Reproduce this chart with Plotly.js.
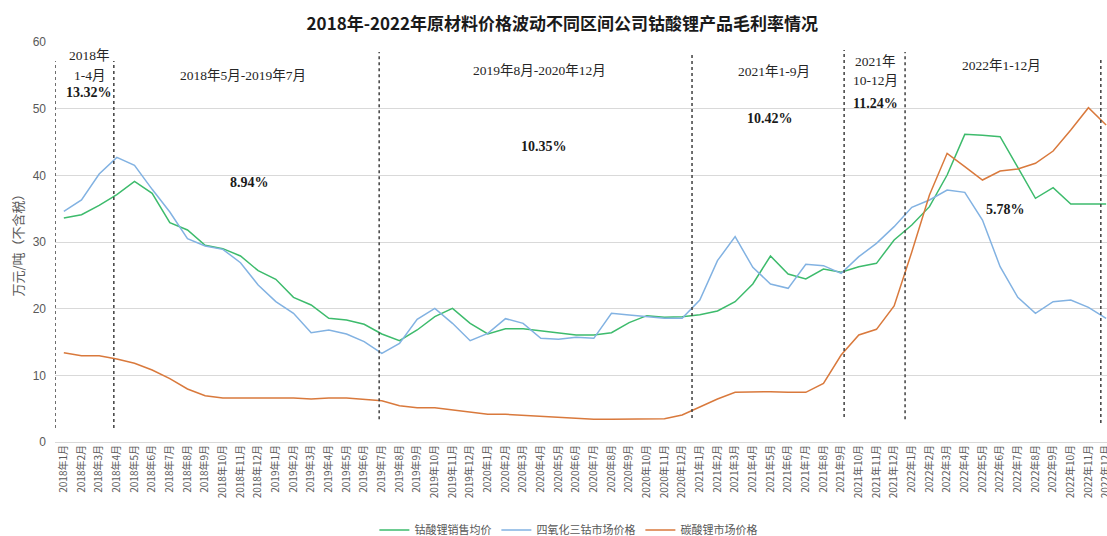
<!DOCTYPE html>
<html>
<head>
<meta charset="utf-8">
<script src="https://cdn.plot.ly/plotly-3.0.1.min.js"></script>
<style>
  html, body { margin: 0; padding: 0; background: #ffffff; }
  #chart { width: 1107px; height: 536px; }
</style>
</head>
<body>
<div id="chart"></div>
<script>
// ---- Data ----
const months = [];
for (let y = 2018; y <= 2022; y++) {
  for (let m = 1; m <= 12; m++) months.push(y + "年" + m + "月");
}

const licoo2Price = [
  33.6, 34.1, 35.5, 37.1, 39.1, 37.3, 32.9, 31.8, 29.5, 29.0,
  27.9, 25.7, 24.4, 21.7, 20.55, 18.55, 18.3, 17.65, 16.2, 15.2,
  16.8, 18.8, 20.05, 17.8, 16.2, 17.0, 17.0, 16.7, 16.3, 16.05,
  16.05, 16.4, 17.9, 18.95, 18.7, 18.8, 19.1, 19.65, 21.05, 23.7,
  27.9, 25.2, 24.45, 25.95, 25.45, 26.3, 26.8, 30.3, 32.55, 35.3,
  40.05, 46.15, 46.0, 45.8, 41.2, 36.55, 38.15, 35.7, 35.7, 35.7
];

const co3o4Price = [
  34.6, 36.3, 40.2, 42.7, 41.5, 37.9, 34.5, 30.5, 29.4, 28.9,
  26.9, 23.55, 21.05, 19.3, 16.4, 16.8, 16.2, 15.05, 13.3, 14.8,
  18.4, 20.05, 17.8, 15.2, 16.3, 18.5, 17.8, 15.55, 15.4, 15.7,
  15.55, 19.3, 19.05, 18.8, 18.55, 18.55, 21.3, 27.2, 30.8, 26.2,
  23.7, 23.05, 26.65, 26.45, 25.3, 27.8, 29.8, 32.3, 35.2, 36.3,
  37.8, 37.45, 33.3, 26.3, 21.7, 19.3, 21.05, 21.3, 20.2, 18.55
];

const li2co3Price = [
  13.4, 12.95, 12.95, 12.45, 11.8, 10.8, 9.5, 7.95, 6.95, 6.6,
  6.6, 6.6, 6.6, 6.6, 6.45, 6.6, 6.6, 6.4, 6.2, 5.45,
  5.15, 5.15, 4.8, 4.4, 4.15, 4.15, 4.0, 3.8, 3.6, 3.45,
  3.4, 3.4, 3.4, 3.4, 3.5, 4.05, 5.3, 6.45, 7.45, 7.55,
  7.55, 7.45, 7.45, 8.8, 13.05, 16.05, 16.9, 20.4, 28.5, 37.05,
  43.3, 41.3, 39.3, 40.65, 40.95, 41.8, 43.65, 46.8, 50.15, 47.55
];

const seriesNames = ["钴酸锂销售均价", "四氧化三钴市场价格", "碳酸锂市场价格"];
const seriesColors = ["#3dbb6c", "#82b2e2", "#d9793c"];

// Period boundaries (dashed lines), in month-index units
const boundaries = [-0.5, 2.83, 17.85, 35.56, 44.17, 47.62, 58.7];
const boundaryTop = [57.15, 57.15, 58.5, 58.5, 58.8, 58.5, 57.75];
const boundaryBottom = [2.1, 2.1, 3.4, 3.6, 3.75, 3.4, 2.85];

// Period labels and margins
const periodLabels = ["2018年", "1-4月", "2018年5月-2019年7月", "2019年8月-2020年12月", "2021年1-9月", "2021年", "10-12月", "2022年1-12月"];
const periodLabelPos = [[1.47, 58.05], [1.47, 55.05], [10.12, 55.05], [26.92, 55.8], [40.2, 55.65], [45.93, 57.15], [45.93, 54.3], [53.1, 56.55]];
const marginLabels = ["13.32%", "8.94%", "10.35%", "10.42%", "11.24%", "5.78%"];
const marginLabelPos = [[1.41, 52.5], [10.52, 39.0], [27.2, 44.4], [40.0, 48.6], [45.93, 50.85], [53.3, 34.95]];

// ---- Chart ----
const xIdx = months.map((_, i) => i);
const seriesValues = [licoo2Price, co3o4Price, li2co3Price];
const traces = seriesValues.map((vals, k) => ({
  x: xIdx,
  y: vals,
  type: "scatter",
  mode: "lines",
  name: seriesNames[k],
  line: { color: seriesColors[k], width: 1.5 },
  hoverinfo: "x+y"
}));

const serif = "'Liberation Serif', 'Times New Roman', 'Noto Sans CJK SC', serif";
const annotations = [];
periodLabels.forEach((t, i) => annotations.push({
  x: periodLabelPos[i][0], y: periodLabelPos[i][1], xref: "x", yref: "y",
  text: t, showarrow: false,
  font: { family: serif, size: 13.5, color: "#262626" }
}));
marginLabels.forEach((t, i) => annotations.push({
  x: marginLabelPos[i][0], y: marginLabelPos[i][1], xref: "x", yref: "y",
  text: "<b>" + t + "</b>", showarrow: false,
  font: { family: serif, size: 14, color: "#1a1a1a" }
}));

const shapes = boundaries.map((b, i) => ({
  type: "line", xref: "x", yref: "y",
  x0: b, x1: b, y0: boundaryBottom[i], y1: boundaryTop[i],
  line: { color: "#404040", width: 1.5, dash: "dot" }
}));

const layout = {
  width: 1107,
  height: 536,
  margin: { l: 55, r: 0, t: 42, b: 94, autoexpand: false },
  paper_bgcolor: "#ffffff",
  plot_bgcolor: "#ffffff",
  font: { family: "'Noto Sans CJK SC', sans-serif", color: "#595959" },
  title: {
    text: "<b>2018年-2022年原材料价格波动不同区间公司钴酸锂产品毛利率情况</b>",
    font: { family: "'Noto Sans CJK SC', sans-serif", size: 17, color: "#1a1a1a" },
    x: 0.508, xanchor: "center", y: 0.955, yanchor: "middle"
  },
  xaxis: {
    range: [-0.5, 59.05],
    tickmode: "array",
    tickvals: xIdx,
    ticktext: months,
    tickangle: -90,
    tickfont: { size: 10, color: "#595959", family: "'Noto Sans CJK SC', sans-serif" },
    ticklabeloverflow: "allow",
    automargin: false,
    showgrid: false,
    zeroline: false,
    showline: false,
    ticks: "",
    fixedrange: true
  },
  yaxis: {
    range: [0, 60],
    dtick: 10,
    tick0: 0,
    showgrid: true,
    gridcolor: "#d9d9d9",
    gridwidth: 1,
    zeroline: true,
    zerolinecolor: "#d9d9d9",
    zerolinewidth: 1,
    showline: false,
    ticks: "",
    automargin: false,
    ticklabelstandoff: 8,
    tickfont: { size: 12, color: "#595959", family: "'Liberation Sans', Arial, sans-serif" },
    title: {
      text: "万元/吨（不含税）",
      font: { size: 13, color: "#595959", family: "'Noto Sans CJK SC', sans-serif" },
      standoff: 6
    },
    fixedrange: true
  },
  showlegend: true,
  legend: {
    orientation: "h",
    x: 0.488, xanchor: "center",
    yref: "container",
    y: 0.011, yanchor: "middle",
    font: { size: 11, color: "#595959", family: "'Noto Sans CJK SC', sans-serif" },
    itemwidth: 30,
    tracegroupgap: 0,
    bgcolor: "rgba(0,0,0,0)"
  },
  annotations: annotations,
  shapes: shapes
};

Plotly.newPlot("chart", traces, layout, { displayModeBar: false, responsive: false });
</script>
</body>
</html>
